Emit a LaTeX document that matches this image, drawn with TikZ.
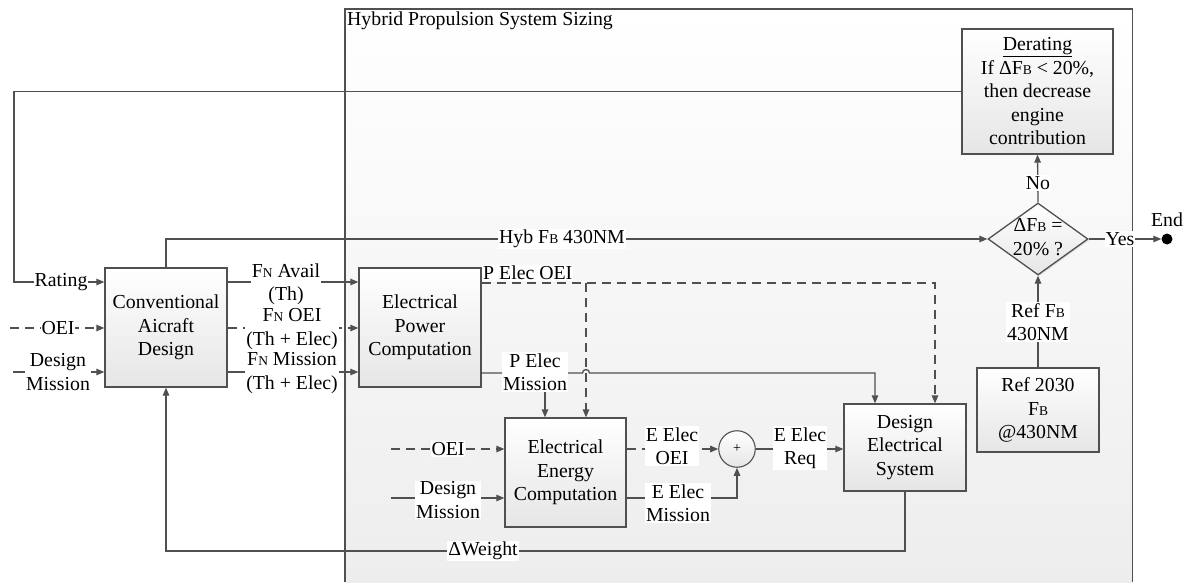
\documentclass[tikz,border=0pt]{standalone}
\usepackage{fontspec}
\setmainfont{Liberation Serif}
\usetikzlibrary{arrows.meta,shapes.geometric,shadows}
\newcommand\smc[1]{{\fontsize{13.5}{13.5}\selectfont #1}}
\definecolor{ln}{HTML}{505050}
\begin{document}
\begin{tikzpicture}[x=1pt,y=-1pt,
  font=\fontsize{19.8}{23.5}\selectfont,
  wire/.style={draw=ln, line width=1.3pt},
  arr/.style={wire, -{Triangle[length=8pt,width=6.5pt]}},
  dsh/.style={dash pattern=on 9pt off 6pt},
  box/.style={draw=ln, line width=1.3pt, top color=white, bottom color=black!10,
    align=center, inner sep=1pt,
    drop shadow={shadow xshift=1.2pt, shadow yshift=-1.2pt, opacity=0.25}},
  lbl/.style={fill=white, inner sep=1pt, align=center, text=black}]
\useasboundingbox (0,0) rectangle (1191,582);
% container
\node[anchor=north west, minimum width=787pt, minimum height=573pt, inner sep=0pt,
  top color=white, bottom color=black!7] (cont) at (345,9) {};
\draw[wire] (cont.south west) -- (cont.north west) -- (cont.north east) -- (cont.south east);
\node[anchor=north west, inner sep=1pt] (ctitle) at (346,11) {Hybrid Propulsion System Sizing};
% blocks
\node[box, minimum width=122pt, minimum height=119pt] (CAD) at (166,327.5) {Conventional\\Aicraft\\Design};
\node[box, minimum width=122pt, minimum height=119pt] (EPC) at (420,327.5) {Electrical\\Power\\Computation};
\node[box, minimum width=121pt, minimum height=109pt] (EEC) at (565.5,472.5) {Electrical\\Energy\\Computation};
\node[box, minimum width=122pt, minimum height=87pt] (DES) at (905,447.5) {Design\\Electrical\\System};
\node[box, minimum width=151pt, minimum height=125pt] (Der) at (1037.5,91.5) {\underline{Derating}\\If ΔF\smc{B} < 20\%,\\then decrease\\engine\\contribution};
\node[box, minimum width=122pt, minimum height=84pt] (Ref) at (1038,410) {Ref 2030\\F\smc{B}\\@430NM};
\node[box, diamond, minimum width=100pt, minimum height=72pt, inner sep=0pt] (Dia) at (1038,239)
  {\makebox[0pt]{\raisebox{-5pt}[0pt][0pt]{\begin{tabular}{@{}c@{}}ΔF\smc{B} =\\20\% ?\end{tabular}}}};
\node[circle, draw=ln, line width=1.1pt, top color=white, bottom color=black!10, minimum size=36.5pt, inner sep=0pt,
  font=\fontsize{14}{14}\selectfont] (Sum) at (737,449) {+};
\node[circle, fill=black, minimum size=11pt, inner sep=0pt] (enddot) at (1167,239) {};
% coordinates
\coordinate (rt) at (14,91.5);
\coordinate (rb) at (14,282);
\coordinate (oei0) at (10,328);
\coordinate (dm0) at (13,372);
\coordinate (peo) at (935,283);
\coordinate (pb) at (586,283);
\coordinate (pm) at (875,373);
\coordinate (pmb) at (545,373);
\coordinate (hop) at (582.5,373);
\coordinate (eo) at (391,449);
\coordinate (ed) at (391,498);
\coordinate (em) at (737,498);
\coordinate (w1) at (905,551);
% connectors
\draw[arr] (Der.west) -- (rt) -- (rb) -- (rb -| CAD.west);
\draw[arr, dsh] (oei0) -- (oei0 -| CAD.west);
\draw[arr] (dm0) -- (dm0 -| CAD.west);
\draw[arr] (CAD.east |- rb) -- (EPC.west |- rb);
\draw[arr, dsh] (CAD.east |- oei0) -- (EPC.west |- oei0);
\draw[arr] (CAD.east |- dm0) -- (EPC.west |- dm0);
\draw[arr] (CAD.north) -- (CAD.north |- Dia.west) -- (Dia.west);
\draw[arr, dsh] (EPC.east |- peo) -- (peo) -- (peo |- DES.north);
\draw[arr, dsh] (pb) -- (pb |- EEC.north);
\draw[arr] (EPC.east |- pm) -- (hop) arc[start angle=180, end angle=360, radius=3.5] -- (pm) -- (pm |- DES.north);
\draw[arr] (pmb) -- (pmb |- EEC.north);
\draw[arr, dsh] (eo) -- (eo -| EEC.west);
\draw[arr] (ed) -- (ed -| EEC.west);
\draw[arr, dsh] (EEC.east |- Sum.west) -- (Sum.west);
\draw[arr] (EEC.east |- em) -- (em) -- (Sum.south);
\draw[arr] (Sum.east) -- (Sum.east -| DES.west);
\draw[arr] (DES.south) -- (w1) -- (w1 -| CAD.south) -- (CAD.south);
\draw[arr] (Dia.north) -- (Der.south);
\draw[arr] (Dia.east) -- (enddot.west);
\draw[arr] (Ref.north) -- (Dia.south);
% labels
\node[lbl] (lrat) at (61,282) {Rating};
\node[lbl] (lcoei) at (58,328) {OEI};
\node[lbl] (lcdm) at (58,372) {Design\\Mission};
\node[lbl] (lfa) at (286,284) {F\smc{N} Avail\\(Th)};
\node[lbl] (lfo) at (292,329) {F\smc{N} OEI\\(Th + Elec)};
\node[lbl] (lfm) at (292,373) {F\smc{N} Mission\\(Th + Elec)};
\node[lbl] (lhyb) at (562,239) {Hyb F\smc{B} 430NM};
\node[lbl, anchor=south west] (lpeo) at (482,281) {P Elec OEI};
\node[lbl] (lpem) at (535,372) {P Elec\\Mission};
\node[lbl] (leoei) at (448,449) {OEI};
\node[lbl] (ledm) at (448,500) {Design\\Mission};
\node[lbl] (leeo) at (672,446) {E Elec\\OEI};
\node[lbl] (leem) at (678,503) {E Elec\\Mission};
\node[lbl] (leer) at (800,448) {E Elec\\Req};
\node[lbl] (lw) at (483,551) {ΔWeight};
\node[lbl] (lno) at (1038,183) {No};
\node[lbl] (lyes) at (1120,239) {Yes};
\node[lbl] (lref) at (1038,322) {Ref F\smc{B}\\430NM};
\node (lend) at (1167,220) {End};
\end{tikzpicture}
\end{document}
